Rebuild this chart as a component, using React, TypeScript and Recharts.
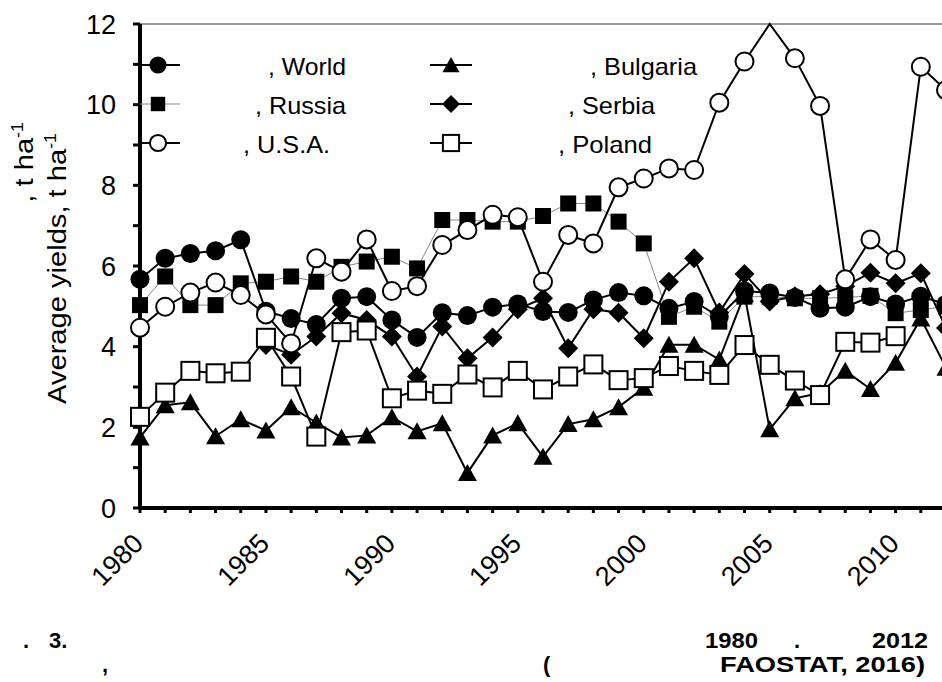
import React from "react";
import { LineChart, Line, XAxis, YAxis, ReferenceLine } from "recharts";

const FONT = "'Liberation Sans', Arial, sans-serif";
const Y_MAX = 12;

const years = [
  1980, 1981, 1982, 1983, 1984, 1985, 1986, 1987, 1988, 1989, 1990,
  1991, 1992, 1993, 1994, 1995, 1996, 1997, 1998, 1999, 2000, 2001,
  2002, 2003, 2004, 2005, 2006, 2007, 2008, 2009, 2010, 2011, 2012,
];

const world = [
  5.67, 6.19, 6.31, 6.38, 6.65, 4.88, 4.7, 4.55, 5.2, 5.24, 4.66,
  4.23, 4.84, 4.77, 4.98, 5.06, 4.87, 4.85, 5.16, 5.34, 5.26, 4.95,
  5.12, 4.74, 5.38, 5.33, 5.22, 4.95, 4.98, 5.24, 5.06, 5.25, 5.05,
];

const russia = [
  5.03, 5.74, 5.03, 5.03, 5.57, 5.61, 5.74, 5.61, 5.98, 6.11, 6.23,
  5.94, 7.14, 7.14, 7.1, 7.1, 7.24, 7.55, 7.55, 7.1, 6.56, 4.74,
  4.99, 4.62, 5.24, 5.24, 5.2, 5.2, 5.22, 5.26, 4.83, 4.91, 5.0,
];

const usa = [
  4.47, 4.99, 5.34, 5.59, 5.28, 4.8, 4.08, 6.19, 5.86, 6.66, 5.38,
  5.5, 6.52, 6.89, 7.27, 7.21, 5.61, 6.77, 6.56, 7.95, 8.17, 8.42,
  8.38, 10.05, 11.07, 12.0, 11.15, 9.97, 5.67, 6.66, 6.15, 10.94, 10.36,
];

const bulgaria = [
  1.75, 2.55, 2.62, 1.78, 2.2, 1.92, 2.5, 2.12, 1.75, 1.8, 2.25,
  1.9, 2.1, 0.87, 1.8, 2.1, 1.27, 2.08, 2.2, 2.5, 2.98, 4.05,
  4.05, 3.68, 5.3, 1.95, 2.72, 2.85, 3.4, 2.95, 3.6, 4.7, 3.48,
];

const serbia = [
  null, null, null, null, null, 4.04, 3.8, 4.25, 4.83, 4.66, 4.25,
  3.26, 4.5, 3.71, 4.23, 4.93, 5.2, 3.96, 4.93, 4.84, 4.21, 5.61,
  6.19, 4.85, 5.8, 5.12, 5.25, 5.3, 5.5, 5.83, 5.57, 5.82, 4.46,
];

const poland = [
  2.26, 2.86, 3.4, 3.34, 3.38, 4.22, 3.26, 1.77, 4.36, 4.4, 2.72,
  2.91, 2.83, 3.31, 2.99, 3.4, 2.94, 3.26, 3.56, 3.17, 3.22, 3.52,
  3.4, 3.3, 4.04, 3.55, 3.16, 2.8, 4.12, 4.1, 4.26, null, null,
];

const yTicks = [0, 1, 2, 3, 4, 5, 6, 7, 8, 9, 10, 11, 12];

const data = years.map((year, i) => ({
  year,
  world: world[i],
  russia: russia[i],
  usa: usa[i],
  bulgaria: bulgaria[i],
  serbia: serbia[i],
  poland: poland[i],
}));

type Kind = "disc" | "block" | "ring" | "tri" | "diamond" | "box";

function Marker({ kind, cx, cy, s = 1 }: { kind: Kind; cx: number; cy: number; s?: number }) {
  switch (kind) {
    case "disc":
      return <circle cx={cx} cy={cy} r={9.5 * s} fill="#000" />;
    case "ring":
      return <circle cx={cx} cy={cy} r={9 * s} fill="#fff" stroke="#000" strokeWidth={2} />;
    case "block":
      return <rect x={cx - 8 * s} y={cy - 8 * s} width={16 * s} height={16 * s} fill="#000" />;
    case "box":
      return (
        <rect x={cx - 9 * s} y={cy - 9 * s} width={18 * s} height={18 * s} fill="#fff" stroke="#000" strokeWidth={2} />
      );
    case "tri":
      return (
        <polygon
          points={`${cx},${cy - 9 * s} ${cx + 9.5 * s},${cy + 8 * s} ${cx - 9.5 * s},${cy + 8 * s}`}
          fill="#000"
        />
      );
    case "diamond":
      return (
        <polygon
          points={`${cx},${cy - 10 * s} ${cx + 10 * s},${cy} ${cx},${cy + 10 * s} ${cx - 10 * s},${cy}`}
          fill="#000"
        />
      );
  }
  return null;
}

// markers sitting on the top frame are cut off in the original, so skip them
const dotFor = (kind: Kind) => (p: any) => {
  const key = `${kind}-${p.index}`;
  if (p.value == null || p.cx == null || p.cy == null || p.value >= Y_MAX) return <g key={key} />;
  return (
    <g key={key}>
      <Marker kind={kind} cx={p.cx} cy={p.cy} />
    </g>
  );
};

const XTick = ({ x, y, payload }: any) => {
  const v = payload.value;
  if (v % 5 !== 0) return <g />;
  const px = x + 5;
  const py = y + 30;
  return (
    <text
      x={px}
      y={py}
      transform={`rotate(-45 ${px} ${py})`}
      textAnchor="end"
      fontSize={27}
      fontFamily={FONT}
      fill="#000"
    >
      {v}
    </text>
  );
};

const legendRows: { kind: Kind; label: string; col: number; row: number; tx: number; tl: number; thin?: boolean }[] = [
  { kind: "disc", label: ", World", col: 0, row: 0, tx: 268, tl: 78 },
  { kind: "block", label: ", Russia", col: 0, row: 1, tx: 255, tl: 91, thin: true },
  { kind: "ring", label: ", U.S.A.", col: 0, row: 2, tx: 243, tl: 87 },
  { kind: "tri", label: ", Bulgaria", col: 1, row: 0, tx: 590, tl: 107 },
  { kind: "diamond", label: ", Serbia", col: 1, row: 1, tx: 568, tl: 87 },
  { kind: "box", label: ", Poland", col: 1, row: 2, tx: 558, tl: 94 },
];

function Overlay() {
  const rowY = [65, 104, 143];
  const cols = [
    { x1: 140, x2: 180, m: 158 },
    { x1: 430, x2: 472, m: 451 },
  ];
  return (
    <svg
      width={942}
      height={682}
      style={{ position: "absolute", left: 0, top: 0, pointerEvents: "none" }}
      fontFamily={FONT}
    >
      {legendRows.map((r) => {
        const c = cols[r.col];
        const y = rowY[r.row];
        return (
          <g key={r.label}>
            <line
              x1={c.x1}
              x2={c.x2}
              y1={y}
              y2={y}
              stroke={r.thin ? "#888" : "#000"}
              strokeWidth={r.thin ? 1 : 2}
            />
            <Marker kind={r.kind} cx={c.m} cy={y} s={0.9} />
            <text x={r.tx} y={y + 9.5} fontSize={24} textLength={r.tl} lengthAdjust="spacingAndGlyphs">
              {r.label}
            </text>
          </g>
        );
      })}

      <g transform="translate(33,122) rotate(-90) scale(1.12,1)">
        <text x={0} y={0} textAnchor="end" fontSize={26}>
          , t ha<tspan fontSize={16} dy={-10}>-1</tspan>
        </text>
      </g>
      <g transform="translate(66,404) rotate(-90) scale(1.12,1)">
        <text x={0} y={0} textAnchor="start" fontSize={26}>
          Average yields, t ha<tspan fontSize={16} dy={-10}>-1</tspan>
        </text>
      </g>

      <g fontWeight="bold" fontSize={22}>
        <text x={23} y={648}>.</text>
        <text x={49} y={648}>3.</text>
        <text x={705} y={648} textLength={53} lengthAdjust="spacingAndGlyphs">1980</text>
        <text x={794} y={648}>.</text>
        <text x={872} y={648} textLength={56} lengthAdjust="spacingAndGlyphs">2012</text>
        <text x={102} y={672}>,</text>
        <text x={543} y={672}>(</text>
        <text x={720} y={672} textLength={205} lengthAdjust="spacingAndGlyphs">FAOSTAT, 2016)</text>
      </g>
    </svg>
  );
}

export default function App() {
  return (
    <div
      style={{
        position: "fixed",
        left: 0,
        top: 0,
        width: 942,
        height: 682,
        overflow: "hidden",
        background: "#fff",
      }}
    >
      <LineChart width={1000} height={682} data={data} margin={{ top: 24, right: 54, bottom: 0, left: 0 }}>
        <ReferenceLine y={12} stroke="#999" strokeWidth={2} />
        <XAxis
          dataKey="year"
          type="number"
          domain={[1980, 2012]}
          ticks={years}
          interval={0}
          height={174}
          tickSize={5}
          tick={<XTick />}
          tickLine={{ stroke: "#000", strokeWidth: 3 }}
          axisLine={{ stroke: "#000", strokeWidth: 4 }}
        />
        <YAxis
          type="number"
          domain={[0, 12]}
          ticks={yTicks}
          interval={0}
          width={140}
          tickSize={7}
          tickMargin={17}
          tickFormatter={(v: number) => (v % 2 === 0 ? String(v) : "")}
          tick={{ fill: "#000", fontSize: 27, fontFamily: FONT }}
          tickLine={{ stroke: "#000", strokeWidth: 3 }}
          axisLine={{ stroke: "#000", strokeWidth: 4 }}
        />
        <Line dataKey="russia" stroke="#888" strokeWidth={1} dot={dotFor("block")} activeDot={false} isAnimationActive={false} />
        <Line dataKey="world" stroke="#000" strokeWidth={2} dot={dotFor("disc")} activeDot={false} isAnimationActive={false} />
        <Line dataKey="bulgaria" stroke="#000" strokeWidth={2} dot={dotFor("tri")} activeDot={false} isAnimationActive={false} />
        <Line dataKey="serbia" stroke="#000" strokeWidth={2} dot={dotFor("diamond")} activeDot={false} isAnimationActive={false} />
        <Line dataKey="poland" stroke="#000" strokeWidth={2} dot={dotFor("box")} activeDot={false} isAnimationActive={false} />
        <Line dataKey="usa" stroke="#000" strokeWidth={2} dot={dotFor("ring")} activeDot={false} isAnimationActive={false} />
      </LineChart>
      <Overlay />
    </div>
  );
}
